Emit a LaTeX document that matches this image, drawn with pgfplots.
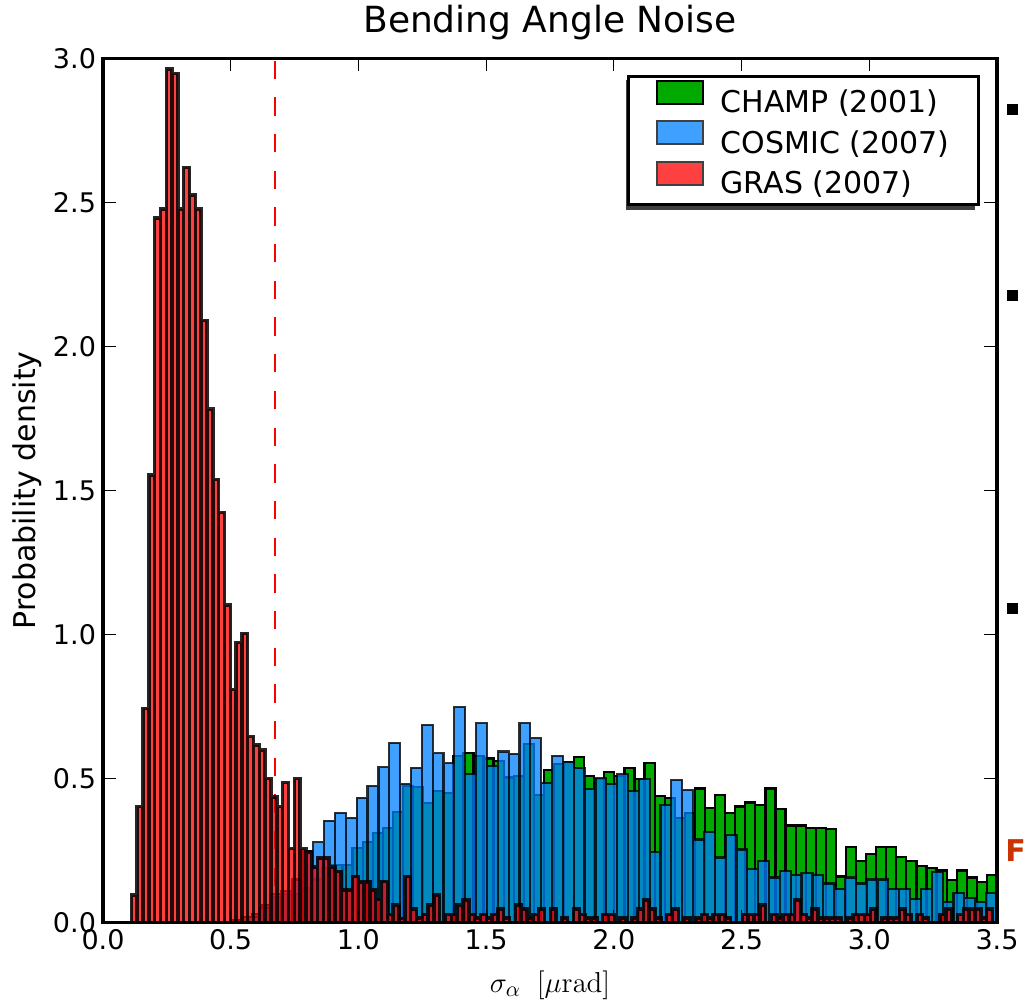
\documentclass[border=0pt]{standalone}
\usepackage[no-math]{fontspec}
\setmainfont{DejaVu Sans}
\usepackage{pgfplots}
\pgfplotsset{compat=1.18}
\usepackage{pgfplotstable}

\definecolor{champ}{RGB}{0,170,0}
\definecolor{cosmic}{RGB}{0,128,255}
\definecolor{gras}{RGB}{255,0,0}
\definecolor{cosmicL}{RGB}{64,160,255}
\definecolor{grasL}{RGB}{255,64,64}
\definecolor{fcol}{RGB}{204,51,0}

% GRAS (2007): bin width 0.02278, first bin starts at 0.111
\pgfplotstableread[row sep=\\]{y\\
0.096\\0.403\\0.744\\1.554\\2.445\\2.477\\2.963\\2.948\\2.477\\2.621\\
2.526\\2.477\\2.090\\1.782\\1.539\\1.424\\1.103\\0.810\\0.972\\1.004\\
0.646\\0.617\\0.599\\0.501\\0.437\\0.403\\0.486\\0.258\\0.500\\0.257\\
0.245\\0.193\\0.225\\0.225\\0.193\\0.177\\0.114\\0.114\\0.160\\0.142\\
0.142\\0.114\\0.080\\0.143\\0.029\\0.061\\0.015\\0.160\\0.048\\0.016\\
0.028\\0.061\\0.096\\0\\0.028\\0.028\\0.061\\0.078\\0.028\\0.016\\
0.028\\0.017\\0.028\\0.048\\0.017\\0\\0.061\\0.048\\0.017\\0.028\\
0.048\\0\\0.048\\0\\0.017\\0\\0.048\\0.028\\0.017\\0.017\\
0\\0.028\\0.028\\0\\0.017\\0\\0.017\\0.048\\0.078\\0.048\\
0.017\\0\\0.028\\0.048\\0\\0.017\\0\\0.017\\0.028\\0.017\\
0.028\\0.028\\0.017\\0\\0\\0.028\\0.028\\0.028\\0.061\\0\\
0.028\\0.017\\0.028\\0.028\\0.078\\0.028\\0.017\\0.048\\0.017\\0.017\\
0.017\\0.017\\0\\0.017\\0.028\\0.028\\0.028\\0.048\\0\\0.017\\
0.017\\0.017\\0.048\\0.028\\0\\0.028\\0.017\\0\\0\\0.028\\
0.048\\0\\0.028\\0.048\\0.048\\0.048\\0.017\\0.048\\0\\
}\grasdata

% COSMIC (2007): bin width 0.04248, first bin starts at 0.5685
\pgfplotstableread[row sep=\\]{y\\
0.02\\0.05\\0.10\\0.11\\0.15\\0.25\\
0.279\\0.354\\0.380\\0.363\\0.434\\0.474\\0.539\\0.623\\0.481\\0.538\\
0.686\\0.588\\0.553\\0.748\\0.515\\0.692\\0.544\\0.594\\0.586\\0.692\\
0.640\\0.486\\0.579\\0.559\\0.536\\0.463\\0.501\\0.480\\0.515\\0.457\\
0.498\\0.246\\0.409\\0.495\\0.460\\0.289\\0.316\\0.226\\0.304\\0.254\\
0.185\\0.214\\0.157\\0.179\\0.165\\0.173\\0.165\\0.136\\0.116\\0.157\\
0.136\\0.150\\0.150\\0.116\\0.116\\0.081\\0.116\\0.177\\0.073\\0.104\\
0.085\\0.073\\0.102\\0\\
}\cosmicdata

% CHAMP (2001): bin width 0.03942, first bin starts at 0.5041
\pgfplotstableread[row sep=\\]{y\\
0.01\\0.02\\0.03\\0.06\\0.09\\0.10\\0.10\\0.12\\0.15\\0.19\\
0.20\\0.20\\0.26\\0.28\\0.31\\0.33\\0.385\\0.474\\0.47\\0.414\\
0.457\\0.449\\0.578\\0.59\\0.578\\0.57\\0.56\\0.504\\0.51\\0.62\\
0.443\\0.53\\0.55\\0.559\\0.574\\0.508\\0.50\\0.522\\0.51\\0.536\\
0.50\\0.553\\0.439\\0.432\\0.362\\0.38\\0.466\\0.399\\0.443\\0.380\\
0.403\\0.417\\0.409\\0.466\\0.394\\0.337\\0.337\\0.330\\0.330\\0.324\\
0.160\\0.262\\0.215\\0.238\\0.262\\0.262\\0.227\\0.215\\0.197\\0.189\\
0.181\\0.148\\0.181\\0.157\\0.140\\0.165\\0\\
}\champdata

\begin{document}
\begin{tikzpicture}
\path[use as bounding box] (-51.5pt,-41.15pt) rectangle (461pt,461.35pt);
\begin{axis}[
  scale only axis, width=447pt, height=432.2pt,
  at={(0pt,0pt)}, anchor=south west,
  xmin=0, xmax=3.5, ymin=0, ymax=3,
  xtick={0,0.5,1,1.5,2,2.5,3,3.5},
  ytick={0,0.5,1,1.5,2,2.5,3},
  tick pos=both, tick align=inside,
  major tick length=6.3pt,
  every tick/.style={black, line width=0.6pt},
  axis line style={line width=1.6pt},
  axis on top,
  /pgf/number format/assume math mode=true,
  /pgf/number format/.cd, fixed, fixed zerofill, precision=1, /pgfplots/.cd,
  ticklabel style={font=\fontsize{13.5}{16}\selectfont},
  every axis title shift=0pt,
  title={Bending Angle Noise},
  title style={at={(axis description cs:0.5,1.0304)}, anchor=base, font=\fontsize{18}{21}\selectfont},
  ylabel={Probability density},
  ylabel style={at={(axis description cs:-0.085,0.5)}, anchor=center, font=\fontsize{15}{18}\selectfont},
  xlabel={$\sigma_\alpha\;\;\bigl[\mu\mathrm{rad}\bigr]$},
  xlabel style={at={(axis description cs:0.5,-0.072)}, anchor=center, font=\fontsize{15}{18}\selectfont},
  legend cell align=left,
  legend style={at={(axis description cs:1,1)}, anchor=north east, xshift=-8.5pt, yshift=-8.4pt,
    draw=black, line width=1.3pt, fill=white, font=\fontsize{15}{18}\selectfont,
    inner xsep=10.7pt, inner ysep=1.8pt, row sep=0pt,
    nodes={inner xsep=4pt, inner ysep=2.2pt}},
]
% legend shadow
\fill[black!75] (rel axis cs:0.5847,0.8245) rectangle (rel axis cs:0.9754,0.9749);
\addplot[red, line width=1pt, dash pattern=on 9.17pt off 9.17pt, forget plot] coordinates {(0.673,0) (0.673,3)};
\addplot[ybar interval, fill=champ, draw=black, line width=1.1pt, forget plot]
  table[x expr={0.5041+\coordindex*0.03942}, y=y] {\champdata};
\addplot[ybar interval, fill=cosmic, fill opacity=0.75, draw=black, draw opacity=0.8, line width=1.1pt, forget plot]
  table[x expr={0.5685+\coordindex*0.04248}, y=y] {\cosmicdata};
\addplot[ybar interval, fill=gras, fill opacity=0.75, draw=black, draw opacity=0.85, line width=1.75pt, forget plot]
  table[x expr={0.111+\coordindex*0.02278}, y=y] {\grasdata};
\addlegendimage{legend image code/.code={\path (-3pt,0pt) (27pt,0pt);\draw[fill=champ, draw=black, line width=1pt] (0pt,-0.5pt) rectangle (23pt,11pt);}}
\addlegendentry{CHAMP (2001)}
\addlegendimage{legend image code/.code={\path (-3pt,0pt) (27pt,0pt);\draw[fill=cosmicL, draw=black!75, line width=1pt] (0pt,-0.5pt) rectangle (23pt,11pt);}}
\addlegendentry{COSMIC (2007)}
\addlegendimage{legend image code/.code={\path (-3pt,0pt) (27pt,0pt);\draw[fill=grasL, draw=black!75, line width=1pt] (0pt,-0.5pt) rectangle (23pt,11pt);}}
\addlegendentry{GRAS (2007)}
\end{axis}
\fill[black] (452pt,403.6pt) rectangle ++(5.5pt,5.5pt);
\fill[black] (452pt,310.6pt) rectangle ++(5.5pt,5.5pt);
\fill[black] (452pt,154.1pt) rectangle ++(5.5pt,5.5pt);
\node[anchor=base west, inner sep=0pt, text=fcol, font=\bfseries\fontsize{15}{18}\selectfont] at (451pt,30.35pt) {F};
\end{tikzpicture}
\end{document}
